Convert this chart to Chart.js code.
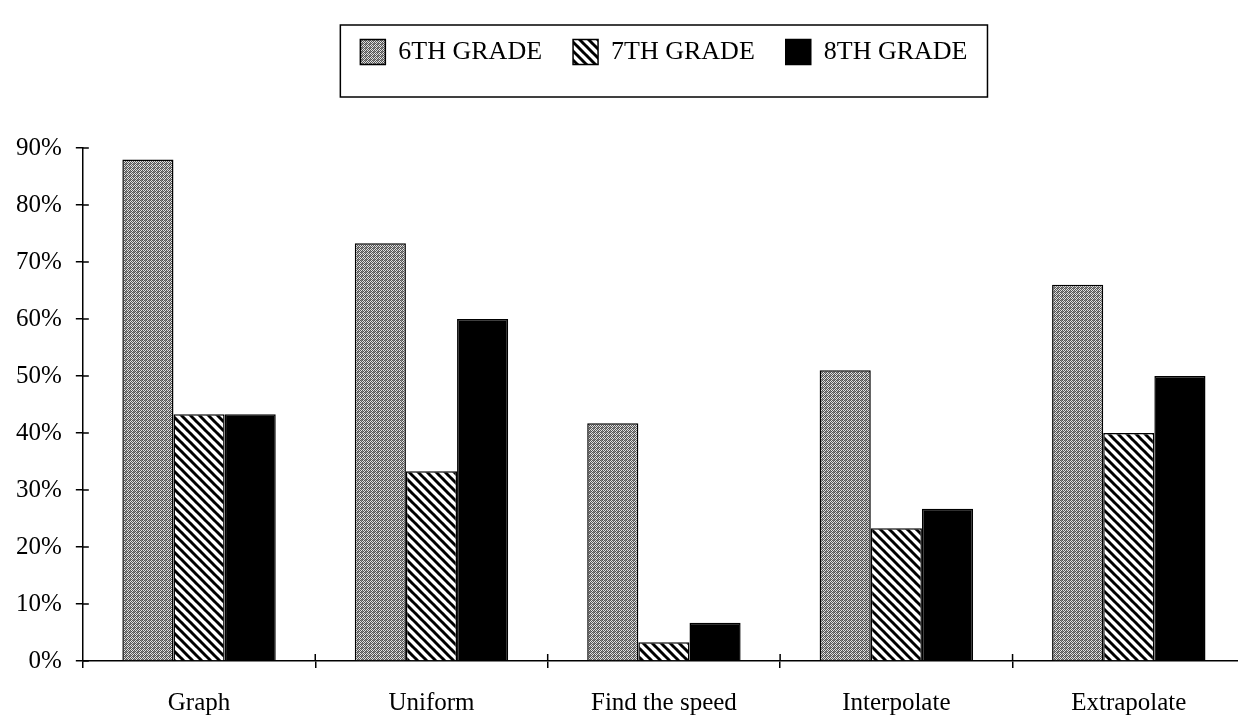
<!DOCTYPE html>
<html>
<head>
<meta charset="utf-8">
<script src="https://cdn.jsdelivr.net/npm/chart.js@4/dist/chart.umd.min.js"></script>
<style>
  html, body { margin: 0; padding: 0; background: #fff; overflow: hidden; }
  #wrap { position: absolute; left: 0; top: 0; width: 1250px; height: 738px; }
</style>
</head>
<body>
<div id="wrap"><canvas id="myChart" width="1250" height="738"></canvas></div>
<script>
const categories = ['Graph', 'Uniform', 'Find the speed', 'Interpolate', 'Extrapolate'];
const grade6 = [88, 73.3, 41.7, 51, 66];
const grade7 = [43.3, 33.3, 3.3, 23.3, 40];
const grade8 = [43.3, 60, 6.7, 26.7, 50];
const seriesNames = ['6TH GRADE', '7TH GRADE', '8TH GRADE'];
const yTicks = [0, 10, 20, 30, 40, 50, 60, 70, 80, 90];

const SERIF = '"Liberation Serif", "Times New Roman", serif';

// fine grey stipple like the scanned fill
function stipplePattern(ctx) {
    const c = document.createElement('canvas');
    c.width = 4; c.height = 4;
    const p = c.getContext('2d');
    p.fillStyle = '#e0e0e0';
    p.fillRect(0, 0, 4, 4);
    p.fillStyle = '#555';
    [[0,0],[2,0],[1,1],[3,1],[0,2],[2,2],[1,3],[3,3]].forEach(([x, y]) => p.fillRect(x, y, 1, 1));
    p.fillStyle = '#888';
    p.fillRect(1, 0, 1, 1);
    p.fillRect(2, 3, 1, 1);
    return ctx.createPattern(c, 'repeat');
}

// back-slash stripes
function stripePattern(ctx) {
    const s = 9;
    const c = document.createElement('canvas');
    c.width = s; c.height = s;
    const p = c.getContext('2d');
    p.fillStyle = '#fff';
    p.fillRect(0, 0, s, s);
    p.strokeStyle = '#000';
    p.lineWidth = 3;
    [-s, 0, s].forEach(k => {
        p.beginPath();
        p.moveTo(k - 1, -1);
        p.lineTo(k + s + 1, s + 1);
        p.stroke();
    });
    return ctx.createPattern(c, 'repeat');
}

const LEGEND_TOP = 8;

const frame = {
    id: 'frame',
    afterLayout(chart) {
        const lg = chart.legend;
        const h = lg.bottom - lg.top;
        lg.top = LEGEND_TOP;
        lg.bottom = LEGEND_TOP + h;
        // centre the legend over the plot area
        lg.left = chart.chartArea.left;
        lg.right = chart.chartArea.right;
    },
    afterDraw(chart) {
        const ctx = chart.ctx;
        const area = chart.chartArea;
        const xs = chart.scales.x;
        const ys = chart.scales.y;
        ctx.save();
        ctx.strokeStyle = '#000';
        ctx.lineWidth = 1.5;
        // inner halves of the tick marks
        ctx.beginPath();
        ys.ticks.forEach((t, i) => {
            const y = ys.getPixelForTick(i);
            ctx.moveTo(area.left, y);
            ctx.lineTo(area.left + 6, y);
        });
        for (let i = 1; i <= categories.length; i++) {
            const x = xs.getPixelForValue(i - 0.5);
            ctx.moveTo(x, area.bottom);
            ctx.lineTo(x, area.bottom - 7);
        }
        ctx.stroke();

        // legend frame
        const boxes = chart.legend.legendHitBoxes;
        if (boxes && boxes.length) {
            const left = Math.min(...boxes.map(b => b.left)) - 20;
            const right = Math.max(...boxes.map(b => b.left + b.width)) + 20;
            const cy = boxes[0].top + boxes[0].height / 2;
            ctx.strokeRect(left, cy - 27, right - left, 72);
        }
        ctx.restore();
    }
};

const ctx = document.getElementById('myChart').getContext('2d');
const fills = [stipplePattern(ctx), stripePattern(ctx), '#000'];

new Chart(ctx, {
    type: 'bar',
    data: {
        labels: categories,
        datasets: [grade6, grade7, grade8].map((vals, i) => ({
            label: seriesNames[i],
            data: vals,
            backgroundColor: fills[i],
            borderColor: '#000',
            borderWidth: 1.5,
            categoryPercentage: 0.66,
            barPercentage: 1.0
        }))
    },
    options: {
        responsive: false,
        animation: false,
        layout: { padding: { top: 81, left: 2, right: 5, bottom: 0 } },
        plugins: {
            tooltip: { enabled: false },
            legend: {
                position: 'top',
                labels: {
                    boxWidth: 25,
                    boxHeight: 25,
                    padding: 31,
                    color: '#000',
                    font: { family: SERIF, size: 26 }
                }
            }
        },
        scales: {
            x: {
                grid: { display: true, drawOnChartArea: false, drawTicks: true, tickLength: 7, color: '#000', lineWidth: 1.5 },
                border: { display: true, color: '#000', width: 1.5 },
                ticks: { color: '#000', padding: 20, font: { family: SERIF, size: 25 }, maxRotation: 0 }
            },
            y: {
                min: 0,
                max: yTicks[yTicks.length - 1],
                afterBuildTicks: scale => { scale.ticks = yTicks.map(v => ({ value: v })); },
                grid: { display: true, drawOnChartArea: false, drawTicks: true, tickLength: 7, color: '#000', lineWidth: 1.5 },
                border: { display: true, color: '#000', width: 1.5 },
                ticks: { color: '#000', padding: 14, font: { family: SERIF, size: 25 }, callback: v => v + '%' }
            }
        }
    },
    plugins: [frame]
});
</script>
</body>
</html>
